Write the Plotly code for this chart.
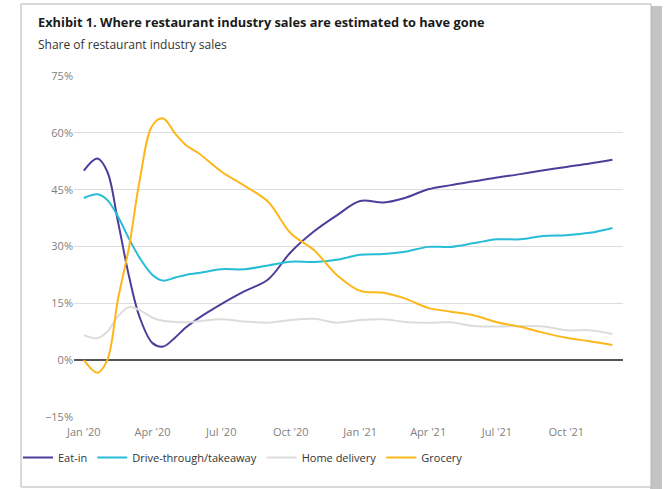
import plotly.graph_objects as go

# ---- data ----
dates = [
    "2020-01-01", "2020-01-19", "2020-02-01", "2020-02-15", "2020-03-01", "2020-03-15",
    "2020-04-01", "2020-04-15", "2020-05-01", "2020-05-15", "2020-06-01", "2020-07-01",
    "2020-08-01", "2020-09-01", "2020-10-01", "2020-11-01", "2020-12-01", "2021-01-01",
    "2021-02-01", "2021-03-01", "2021-04-01", "2021-05-01", "2021-06-01", "2021-07-01",
    "2021-08-01", "2021-09-01", "2021-10-01", "2021-11-01", "2021-12-01",
]
eat_in = [50.0, 53.2, 49.8, 36.8, 22.0, 11.3, 4.5, 3.6, 6.0, 8.6, 11.1, 14.8,
          18.2, 21.3, 28.5, 34.0, 38.2, 42.0, 41.6, 42.8, 45.1, 46.2, 47.2, 48.2,
          49.1, 50.1, 51.0, 51.9, 52.9]
drive_through = [42.8, 43.8, 42.3, 38.0, 32.0, 27.0, 22.5, 21.0, 21.8, 22.5, 23.0, 24.0,
                 24.0, 25.0, 26.0, 25.9, 26.5, 27.8, 28.0, 28.6, 29.9, 29.9, 30.9, 31.9,
                 31.9, 32.8, 33.0, 33.6, 34.9]
home_delivery = [6.6, 5.8, 7.5, 11.5, 14.0, 13.2, 11.2, 10.4, 10.1, 10.0, 10.3, 10.8,
                 10.2, 9.9, 10.6, 10.9, 9.9, 10.6, 10.8, 10.1, 9.9, 10.0, 9.0, 8.9,
                 9.0, 8.9, 7.9, 7.9, 6.9]
grocery = [0.0, -3.3, 0.0, 15.8, 30.0, 47.5, 62.0, 63.8, 59.8, 56.8, 54.6, 49.8,
           46.0, 41.8, 33.5, 29.0, 22.5, 18.3, 17.8, 16.3, 13.8, 12.8, 11.8, 10.0,
           8.8, 7.2, 5.9, 5.0, 4.0]

series_names = ["Eat-in", "Drive-through/takeaway", "Home delivery", "Grocery"]
series_values = [eat_in, drive_through, home_delivery, grocery]
series_colors = ["#4F3D9A", "#27BCD8", "#DCDCDC", "#FDB71A"]

tick_dates = ["2020-01-01", "2020-04-01", "2020-07-01", "2020-10-01",
              "2021-01-01", "2021-04-01", "2021-07-01", "2021-10-01"]
tick_labels = ["Jan '20", "Apr '20", "Jul '20", "Oct '20",
               "Jan '21", "Apr '21", "Jul '21", "Oct '21"]

FONT = "Open Sans"

fig = go.Figure()
for name, vals, col in zip(series_names, series_values, series_colors):
    fig.add_trace(go.Scatter(
        x=dates, y=vals, name=name, mode="lines",
        line=dict(color=col, width=2, shape="spline", smoothing=1.0),
    ))

# plot area in pixels: left 74, right 623, top 76, bottom 417
W, H = 664, 489
L, R, T, B = 74, 623, 76, 417
pw, ph = R - L, B - T

def px(xp):
    return (xp - L) / pw

def py(yp):
    return (B - yp) / ph

shapes = [
    # card shadow (right side)
    dict(type="rect", xref="paper", yref="paper", layer="below",
         x0=px(650), x1=px(662), y0=py(489), y1=py(6),
         fillcolor="#c4c4c4", line=dict(width=0)),
    # card
    dict(type="rect", xref="paper", yref="paper", layer="below",
         x0=px(21), x1=px(651), y0=py(487), y1=py(4),
         fillcolor="white", line=dict(color="#b5b5b5", width=1)),
]

fig.update_layout(
    width=W, height=H,
    margin=dict(l=L, r=W - R, t=T, b=H - B),
    paper_bgcolor="white",
    plot_bgcolor="rgba(0,0,0,0)",
    font=dict(family=FONT, color="#333333"),
    title=dict(
        text="<b>Exhibit 1. Where restaurant industry sales are estimated to have gone</b>",
        x=38 / W, xanchor="left", xref="container",
        y=1 - 23 / H, yanchor="middle", yref="container",
        font=dict(family=FONT, size=12.8, color="#1a1a1a"),
    ),
    annotations=[dict(
        text="Share of restaurant industry sales",
        xref="paper", yref="paper", x=px(36), y=py(44),
        xanchor="left", yanchor="middle", showarrow=False,
        font=dict(family=FONT, size=12, color="#333333"),
    )],
    shapes=shapes,
    showlegend=True,
    legend=dict(
        orientation="h", x=px(18), y=py(443), xanchor="left", yanchor="top",
        font=dict(family=FONT, size=11, color="#333333"),
        bgcolor="rgba(0,0,0,0)", itemwidth=30, tracegroupgap=0,
    ),
    xaxis=dict(
        type="date", range=["2019-12-19", "2021-12-15"],
        tickmode="array", tickvals=tick_dates, ticktext=tick_labels,
        showgrid=False, zeroline=False, showline=False, ticks="",
        ticklabelstandoff=7,
        tickfont=dict(family=FONT, size=11, color="#7f7f7f"),
    ),
    yaxis=dict(
        range=[-15, 75], tickmode="linear", tick0=-15, dtick=15,
        ticksuffix="%", showgrid=True, gridcolor="#dddddd", gridwidth=1,
        zeroline=True, zerolinecolor="#555555", zerolinewidth=1.5,
        showline=False, ticks="",
        tickfont=dict(family=FONT, size=11, color="#7f7f7f"),
    ),
)

fig.write_html("out.html")
